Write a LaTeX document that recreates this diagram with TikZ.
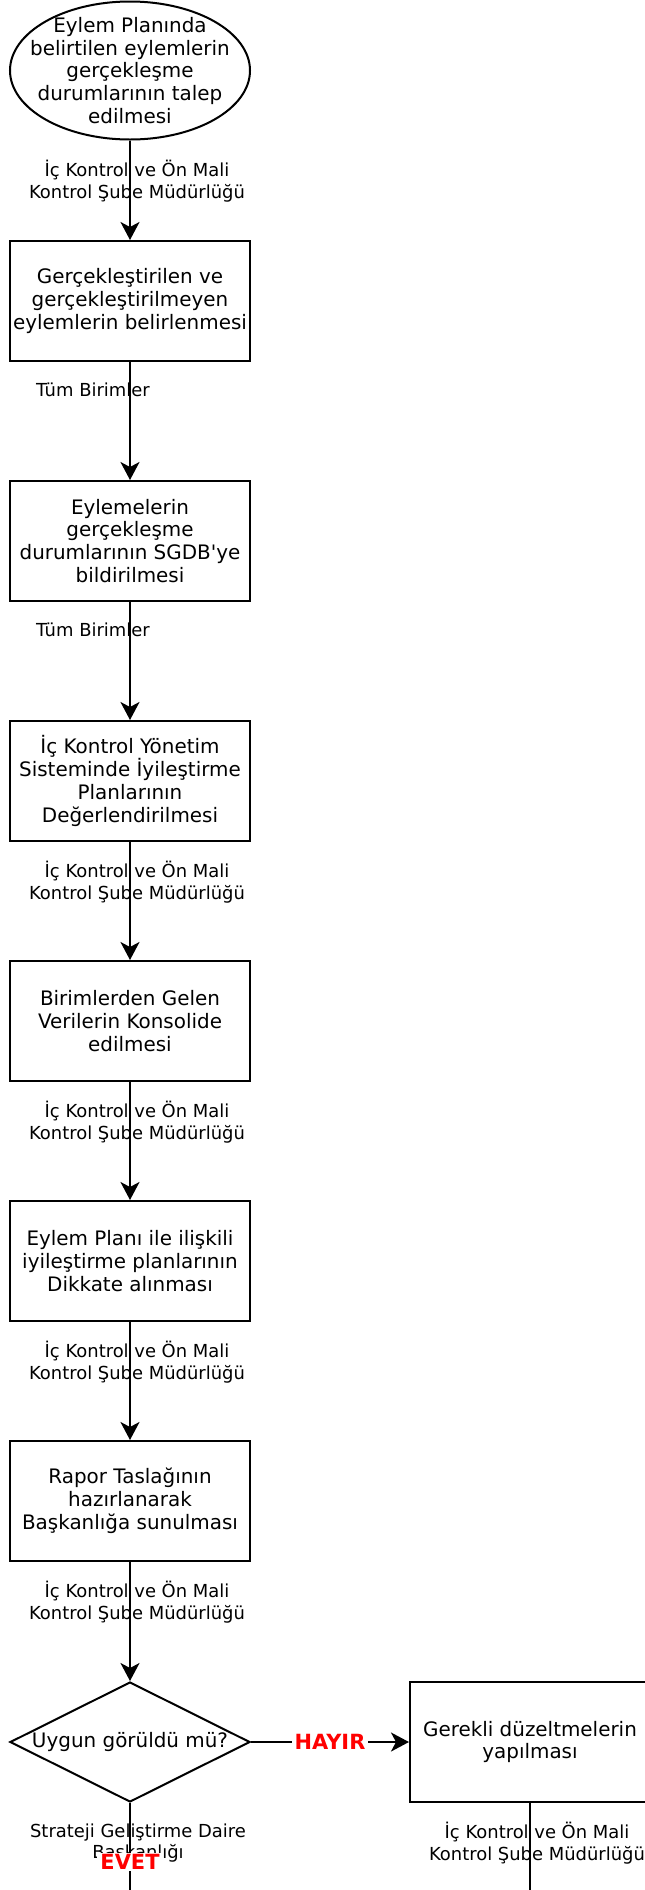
\documentclass[tikz,border=0pt]{standalone}
\usepackage{fontspec}
\usetikzlibrary{shapes.geometric, arrows.meta}
\newfontfamily\dvsans{DejaVu Sans}

\begin{document}
\begin{tikzpicture}[x=1bp, y=-1bp, line width=2bp,
  box/.style={draw, rectangle, minimum width=240bp, minimum height=120bp, inner sep=0pt, align=center, font=\dvsans\fontsize{20}{23}\selectfont},
  term/.style={draw, ellipse, minimum width=240bp, minimum height=138bp, inner sep=0pt},
  dec/.style={draw, diamond, minimum width=240bp, minimum height=120bp, inner sep=0pt},
  txt/.style={inner sep=0pt, align=center, font=\dvsans\fontsize{20}{23}\selectfont},
  lbl/.style={inner sep=0pt, align=center, font=\dvsans\fontsize{18}{22}\selectfont},
  ans/.style={fill=white, inner xsep=3bp, inner ysep=1bp, text=red, font=\dvsans\bfseries\fontsize{21}{24}\selectfont},
  arr/.style={-{Stealth[length=18bp, width=19bp, inset=5bp]}}]
\clip (0,0) rectangle (645,1890);
% nodes
\node [term] (start) at (130,70.5) {};
\node [txt] (starttxt) at (start) {Eylem Planında\\belirtilen eylemlerin\\gerçekleşme\\durumlarının talep\\edilmesi};
\node [box] (b1) at (130,301) {Gerçekleştirilen ve\\gerçekleştirilmeyen\\eylemlerin belirlenmesi};
\node [box] (b2) at (130,541) {Eylemelerin\\gerçekleşme\\durumlarının SGDB'ye\\bildirilmesi};
\node [box] (b3) at (130,781) {İç Kontrol Yönetim\\Sisteminde İyileştirme\\Planlarının\\Değerlendirilmesi};
\node [box] (b4) at (130,1021) {Birimlerden Gelen\\Verilerin Konsolide\\edilmesi};
\node [box] (b5) at (130,1261) {Eylem Planı ile ilişkili\\iyileştirme planlarının\\Dikkate alınması};
\node [box] (b6) at (130,1501) {Rapor Taslağının\\hazırlanarak\\Başkanlığa sunulması};
\node [dec] (dia) at (130,1742) {};
\node [txt] (diatxt) at (dia) {Uygun görüldü mü?};
\node [box] (fix) at (530,1742) {Gerekli düzeltmelerin\\yapılması};
\coordinate (yesend) at (130,1900);
\coordinate (fixend) at (530,1900);
% edge labels
\node [lbl] (l1) at (137,181) {İç Kontrol ve Ön Mali\\Kontrol Şube Müdürlüğü};
\node [lbl] (l2) at (93,390) {Tüm Birimler};
\node [lbl] (l3) at (93,630) {Tüm Birimler};
\node [lbl] (l4) at (137,882) {İç Kontrol ve Ön Mali\\Kontrol Şube Müdürlüğü};
\node [lbl] (l5) at (137,1122) {İç Kontrol ve Ön Mali\\Kontrol Şube Müdürlüğü};
\node [lbl] (l6) at (137,1362) {İç Kontrol ve Ön Mali\\Kontrol Şube Müdürlüğü};
\node [lbl] (l7) at (137,1602) {İç Kontrol ve Ön Mali\\Kontrol Şube Müdürlüğü};
\node [lbl] (l8) at (138,1843) {Strateji Geliştirme Daire\\Başkanlığı};
\node [lbl] (l9) at (537,1843) {İç Kontrol ve Ön Mali\\Kontrol Şube Müdürlüğü};
% connectors
\draw [arr] (start) -- (b1);
\draw [arr] (b1) -- (b2);
\draw [arr] (b2) -- (b3);
\draw [arr] (b3) -- (b4);
\draw [arr] (b4) -- (b5);
\draw [arr] (b5) -- (b6);
\draw [arr] (b6) -- (dia);
\draw [arr] (dia) -- node [ans] (no) {HAYIR} (fix);
\draw (dia) -- (yesend);
\draw (fix) -- (fixend);
\node [ans] (yes) at (130,1862) {EVET};
\end{tikzpicture}
\end{document}
